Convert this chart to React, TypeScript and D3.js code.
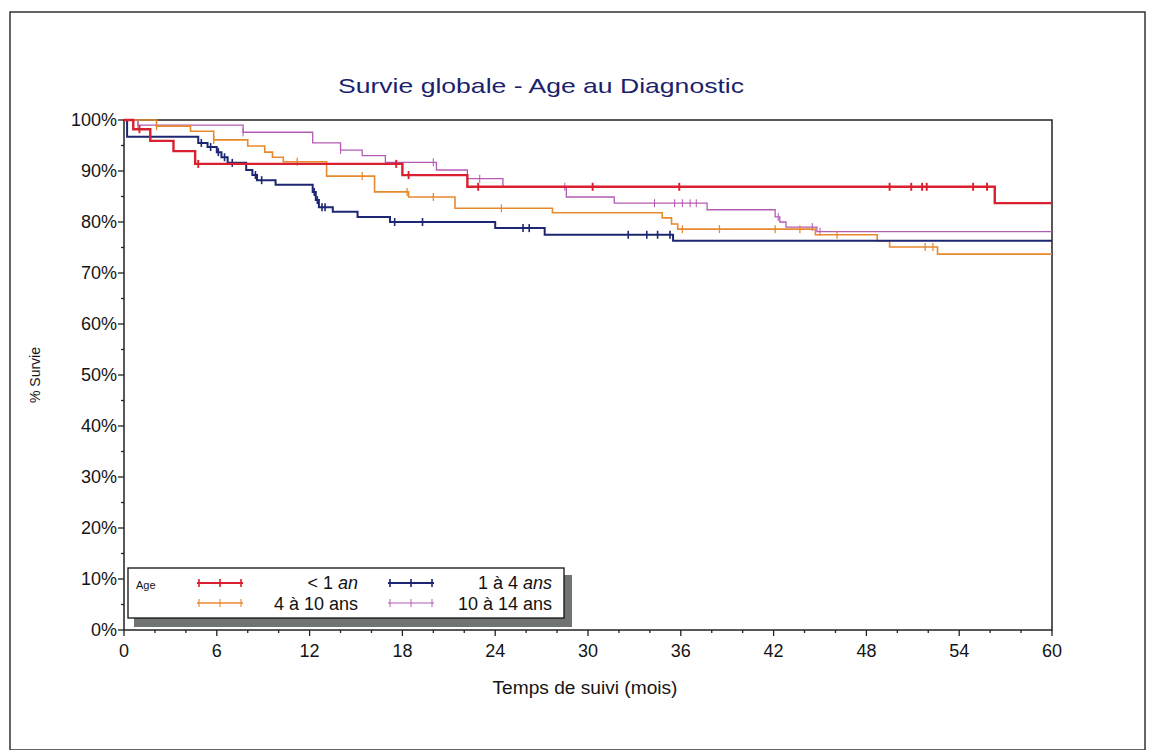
import React from "react";
import * as d3 from "d3";

// ---- data (months, % survival) ----
const xTicks = [0, 6, 12, 18, 24, 30, 36, 42, 48, 54, 60];
const yTicks = [0, 10, 20, 30, 40, 50, 60, 70, 80, 90, 100];
const xMinor = d3.range(0, 61, 2);
const yMinor = d3.range(0, 101, 5);

const lt1Steps: [number, number][] = [
  [0, 100], [0.6, 98.2], [1.7, 95.9], [3.2, 93.9], [4.6, 91.4], [18.0, 89.2], [22.2, 86.9], [56.3, 83.7],
];
const lt1Censor = [1.0, 4.8, 17.6, 18.4, 22.9, 30.3, 35.9, 49.5, 50.9, 51.6, 51.9, 54.9, 55.8];

const a1to4Steps: [number, number][] = [
  [0, 100], [0.2, 96.7], [4.8, 95.5], [5.4, 94.7], [6.0, 93.7], [6.3, 92.7], [6.7, 91.6], [7.9, 90.2],
  [8.3, 89.2], [8.6, 88.2], [9.8, 87.3], [12.2, 85.9], [12.4, 84.3], [12.6, 82.9], [13.5, 82.0],
  [15.1, 81.0], [17.2, 80.0], [24.0, 78.8], [27.2, 77.5], [35.5, 76.3],
];
const a1to4Censor = [5.0, 5.6, 6.1, 6.5, 7.0, 8.5, 8.9, 12.3, 12.5, 12.8, 13.0, 17.5, 19.3, 25.8, 26.2, 32.6, 33.8, 34.5, 35.3];

const a4to10Steps: [number, number][] = [
  [0, 100], [2.1, 98.8], [4.3, 97.8], [5.8, 96.1], [8.0, 94.9], [9.1, 93.7], [9.6, 92.7], [10.3, 91.8],
  [13.1, 89.0], [16.2, 85.9], [18.4, 84.9], [21.4, 82.7], [27.7, 81.8], [34.8, 80.8], [35.4, 79.6],
  [35.8, 78.6], [44.7, 77.5], [48.7, 76.3], [49.5, 75.1], [52.6, 73.7],
];
const a4to10Censor = [2.1, 5.8, 11.2, 15.4, 18.3, 20.0, 24.4, 36.1, 38.5, 42.1, 43.7, 46.1, 51.8, 52.3];

const a10to14Steps: [number, number][] = [
  [0, 100], [0.9, 99.0], [7.7, 97.6], [12.2, 95.5], [14.0, 94.1], [15.4, 93.0], [16.9, 91.7], [20.2, 90.2],
  [22.2, 88.5], [24.5, 86.9], [28.6, 84.9], [31.7, 83.7], [37.7, 82.4], [42.1, 81.0], [42.4, 80.0],
  [42.8, 79.0], [44.8, 78.1],
];
const a10to14Censor = [0.9, 7.7, 14.0, 20.0, 23.0, 28.5, 34.3, 35.6, 36.1, 36.6, 37.0, 42.3, 44.5, 45.0];

const series = [
  { name: "10 à 14 ans", steps: a10to14Steps, censor: a10to14Censor, color: "#b45bb4", width: 1.3 },
  { name: "4 à 10 ans", steps: a4to10Steps, censor: a4to10Censor, color: "#e8892e", width: 1.6 },
  { name: "1 à 4 ans", steps: a1to4Steps, censor: a1to4Censor, color: "#1c2672", width: 2 },
  { name: "< 1 an", steps: lt1Steps, censor: lt1Censor, color: "#d8202e", width: 2.4 },
];

const FONT = "'Liberation Sans', Arial, sans-serif";

function survAt(steps: [number, number][], t: number) {
  let v = steps[0][1];
  for (const [st, sv] of steps) if (st <= t) v = sv;
  return v;
}

function LegendSwatch({ x, y, color, width }: { x: number; y: number; color: string; width: number }) {
  return (
    <g>
      <line x1={x} x2={x + 46} y1={y} y2={y} stroke={color} strokeWidth={width} />
      {[x + 2, x + 23, x + 44].map((cx, i) => (
        <line key={i} x1={cx} x2={cx} y1={y - 4} y2={y + 4} stroke={color} strokeWidth={width * 0.8} />
      ))}
    </g>
  );
}

export default function App() {
  const x = d3.scaleLinear().domain([0, 60]).range([124, 1052]);
  const y = d3.scaleLinear().domain([0, 100]).range([630, 120]);
  const line = d3
    .line<[number, number]>()
    .x((d) => x(d[0]))
    .y((d) => y(d[1]))
    .curve(d3.curveStepAfter);

  const byName = (n: string) => series.find((s) => s.name === n)!;

  return (
    <div style={{ position: "fixed", left: 0, top: 0 }}>
      <svg width={1152} height={750} style={{ display: "block", background: "#fff" }} fontFamily={FONT}>
        <rect x={0} y={0} width={1152} height={750} fill="#fff" />
        {/* outer frame */}
        <rect x={10} y={12} width={1135} height={738} fill="none" stroke="#333" strokeWidth={1.5} />

        {/* title */}
        <text x={541} y={93} textAnchor="middle" fontSize={21} fill="#1c1f6e" textLength={406} lengthAdjust="spacingAndGlyphs">
          Survie globale - Age au Diagnostic
        </text>

        {/* plot frame */}
        <rect x={x(0)} y={y(100)} width={x(60) - x(0)} height={y(0) - y(100)} fill="none" stroke="#222" strokeWidth={1.5} />

        {/* y ticks */}
        {yMinor.map((v) => (
          <line key={"ym" + v} x1={x(0) - (v % 10 === 0 ? 6 : 3)} x2={x(0)} y1={y(v)} y2={y(v)} stroke="#222" strokeWidth={1.3} />
        ))}
        {yTicks.map((v) => (
          <text key={"yt" + v} x={x(0) - 7} y={y(v) + 6} textAnchor="end" fontSize={18} fill="#151515">
            {v}%
          </text>
        ))}

        {/* x ticks */}
        {xMinor.map((v) => (
          <line key={"xm" + v} x1={x(v)} x2={x(v)} y1={y(0)} y2={y(0) + (v % 6 === 0 ? 6 : 3)} stroke="#222" strokeWidth={1.3} />
        ))}
        {xTicks.map((v) => (
          <text key={"xt" + v} x={x(v)} y={y(0) + 27} textAnchor="middle" fontSize={18} fill="#151515">
            {v}
          </text>
        ))}

        {/* axis titles */}
        <text x={585} y={694} textAnchor="middle" fontSize={18} fill="#151515" textLength={185} lengthAdjust="spacingAndGlyphs">
          Temps de suivi (mois)
        </text>
        <text transform={`translate(40,375) rotate(-90)`} textAnchor="middle" fontSize={14} fill="#151515">
          % Survie
        </text>

        {/* curves */}
        {series.map((s) => {
          const pts: [number, number][] = [...s.steps, [60, s.steps[s.steps.length - 1][1]]];
          return (
            <g key={s.name}>
              <path d={line(pts) || ""} fill="none" stroke={s.color} strokeWidth={s.width} />
              {s.censor.map((t, i) => {
                const v = survAt(s.steps, t);
                return (
                  <line key={i} x1={x(t)} x2={x(t)} y1={y(v) - 4} y2={y(v) + 4} stroke={s.color} strokeWidth={s.width * 0.8} />
                );
              })}
            </g>
          );
        })}

        {/* legend */}
        <rect x={134} y={575} width={438} height={52} fill="#6f7472" />
        <rect x={128} y={568} width={436} height={50} fill="#fff" stroke="#111" strokeWidth={1.3} />
        <text x={136} y={589} fontSize={11} fill="#111">Age</text>
        <LegendSwatch x={197} y={583} color={byName("< 1 an").color} width={2} />
        <LegendSwatch x={197} y={603} color={byName("4 à 10 ans").color} width={1.4} />
        <LegendSwatch x={388} y={583} color={byName("1 à 4 ans").color} width={2} />
        <LegendSwatch x={388} y={603} color={byName("10 à 14 ans").color} width={1.2} />
        <text x={358} y={589} textAnchor="end" fontSize={18} fill="#111">
          {"< 1 "}<tspan fontStyle="italic">an</tspan>
        </text>
        <text x={358} y={610} textAnchor="end" fontSize={18} fill="#111">4 à 10 ans</text>
        <text x={552} y={589} textAnchor="end" fontSize={18} fill="#111">
          {"1 à 4 "}<tspan fontStyle="italic">ans</tspan>
        </text>
        <text x={552} y={610} textAnchor="end" fontSize={18} fill="#111">10 à 14 ans</text>
      </svg>
    </div>
  );
}
